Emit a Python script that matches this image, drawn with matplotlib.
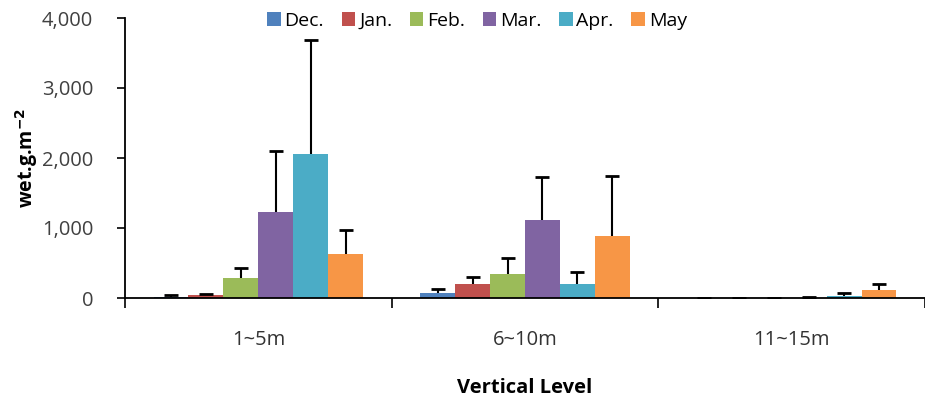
import matplotlib
matplotlib.use("Agg")
import matplotlib.pyplot as plt
import numpy as np

plt.rcParams['font.family'] = ['Open Sans', 'DejaVu Sans']

levels = ["1~5m", "6~10m", "11~15m"]
months = ["Dec.", "Jan.", "Feb.", "Mar.", "Apr.", "May"]
colors = ["#4F81BD", "#C0504D", "#9BBB59", "#8064A2", "#4BACC6", "#F79646"]

# mean wet biomass (g/m^2) per month for each depth level
dec = [20, 70, 0]
jan = [40, 200, 0]
feb = [280, 350, 0]
mar = [1230, 1110, 5]
apr = [2060, 200, 25]
may = [630, 880, 110]

# standard deviations (upper error bars)
dec_sd = [20, 60, 0]
jan_sd = [20, 95, 0]
feb_sd = [145, 220, 0]
mar_sd = [870, 615, 15]
apr_sd = [1630, 165, 45]
may_sd = [340, 870, 90]

means = [dec, jan, feb, mar, apr, may]
sds = [dec_sd, jan_sd, feb_sd, mar_sd, apr_sd, may_sd]

fig = plt.figure(figsize=(9.25, 3.99), dpi=100)
ax = fig.add_axes([125/925, 101/399, 800/925, 280/399])

x = np.arange(len(levels))
w = 0.131
for i, (m, s, c, lab) in enumerate(zip(means, sds, colors, months)):
    pos = x + (i - 2.5) * w
    m = np.asarray(m, float)
    s = np.asarray(s, float)
    ax.bar(pos, m, width=w, color=c, label=lab, zorder=2)
    # upper-only error bar: stem plus a cap at the top
    ax.vlines(pos, m, m + s, color='black', linewidth=1.5, zorder=3)
    ax.plot(pos, m + s, linestyle='none', marker='_', markersize=10,
            markeredgewidth=2, color='black', zorder=3)

ax.set_xlim(-0.5, 2.5)
ax.set_ylim(0, 4000)
ax.set_yticks([0, 1000, 2000, 3000, 4000])
ax.set_yticklabels(["0", "1,000", "2,000", "3,000", "4,000"])
ax.set_xticks(x)
ax.set_xticklabels(levels)
ax.set_xticks([-0.5, 0.5, 1.5, 2.5], minor=True)
ax.tick_params(axis='x', which='major', length=0, pad=23, labelsize=14.5, labelcolor='#333333')
ax.tick_params(axis='x', which='minor', length=7, width=1.2, direction='out', color='black')
ax.tick_params(axis='y', length=6, width=1.2, direction='out', labelsize=14.5,
               colors='black', labelcolor='#404040', pad=17)

for side in ['top', 'right']:
    ax.spines[side].set_visible(False)
ax.spines['left'].set_linewidth(1.3)
ax.spines['bottom'].set_linewidth(1.3)

ax.set_ylabel("wet.g.m$^{\\mathbf{-2}}$", fontsize=14, fontweight='bold')
ax.yaxis.set_label_coords(-0.106, 0.5)
ax.set_xlabel("Vertical Level", fontsize=14.5, fontweight='bold', labelpad=20)

ax.legend(loc='upper center', bbox_to_anchor=(0.44, 1.05), ncol=6, frameon=False,
          fontsize=14, handlelength=0.7, handleheight=0.7, handletextpad=0.2,
          columnspacing=0.9, borderaxespad=0)

fig.savefig("out.png", dpi=100)
